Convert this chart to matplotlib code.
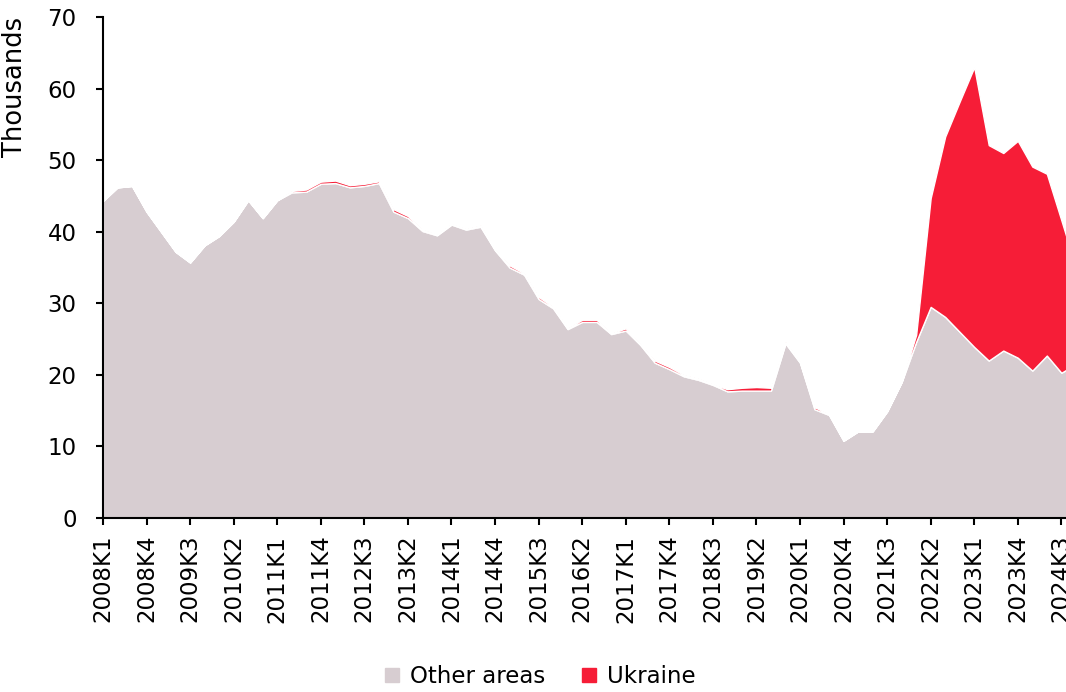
import numpy as np
import matplotlib
matplotlib.use("Agg")
import matplotlib.pyplot as plt
from matplotlib.patches import Patch

# quarters 2008K1 .. 2024K4
years = list(range(2008, 2025))
quarters = [f"{y}K{q}" for y in years for q in range(1, 5)]

other_areas = [44.3, 46.2, 46.4, 42.8, 40.0, 37.2, 35.7, 38.1, 39.4, 41.4,
               44.4, 41.9, 44.4, 45.5, 45.6, 46.7, 46.8, 46.2, 46.4, 46.8,
               42.8, 41.9, 40.1, 39.5, 41.0, 40.3, 40.7, 37.4, 35.0, 34.0,
               30.6, 29.3, 26.4, 27.4, 27.4, 25.7, 26.2, 24.2, 21.7, 20.8,
               19.8, 19.3, 18.6, 17.7, 17.8, 17.8, 17.8, 24.4, 21.7, 15.2,
               14.4, 10.8, 12.1, 12.1, 14.9, 19.0, 24.6, 29.5, 28.1, 26.0,
               23.9, 22.0, 23.4, 22.4, 20.6, 22.7, 20.3, 21.5]
ukraine = [0, 0, 0, 0, 0, 0, 0, 0, 0, 0,
           0, 0, 0, 0.2, 0.3, 0.3, 0.35, 0.3, 0.3, 0.25,
           0.35, 0.3, 0.2, 0.1, 0.1, 0.1, 0.2, 0.1, 0.3, 0.2,
           0.3, 0.2, 0.1, 0.3, 0.3, 0.1, 0.3, 0.1, 0.3, 0.3,
           0.2, 0.2, 0.1, 0.3, 0.4, 0.5, 0.4, 0.2, 0.1, 0.3,
           0.1, 0, 0, 0, 0, 0, 1.0, 15.2, 25.2, 32.2,
           39.1, 30.1, 27.6, 30.3, 28.5, 25.4, 21.3, 13.5]

grey = "#d7cdd1"
red = "#f61d37"
plt.rcParams["font.family"] = "DejaVu Sans"

fig = plt.figure(figsize=(10.66, 6.92), dpi=100)
ax = fig.add_axes([0.0966, 0.2514, 0.9034, 0.724])

x = np.arange(len(other_areas))
ax.stackplot(x, other_areas, ukraine, colors=[grey, red],
             edgecolor="white", linewidth=1.0)

ax.set_xlim(0, 66.32)
ax.set_ylim(0, 70)
ax.set_yticks(range(0, 71, 10))
ax.set_xticks(x[::3][:23])
ax.set_xticklabels(quarters[::3][:23], rotation=90)
ax.tick_params(axis="both", labelsize=16.5, width=1.5, length=5, colors="black")
ax.tick_params(axis="x", pad=7)
ax.tick_params(axis="y", pad=14)
for s in ["top", "right"]:
    ax.spines[s].set_visible(False)
for s in ["left", "bottom"]:
    ax.spines[s].set_linewidth(1.5)

ax.set_ylabel("Thousands", fontsize=18.5, loc="top", labelpad=14)

handles = [Patch(color=grey, label="Other areas"), Patch(color=red, label="Ukraine")]
fig.legend(handles=handles, loc="lower center", ncol=2, frameon=False,
           fontsize=16.5, bbox_to_anchor=(0.507, -0.024), handlelength=0.6,
           handleheight=0.6, handletextpad=0.5, columnspacing=1.6)

fig.savefig("out.png", dpi=100)
